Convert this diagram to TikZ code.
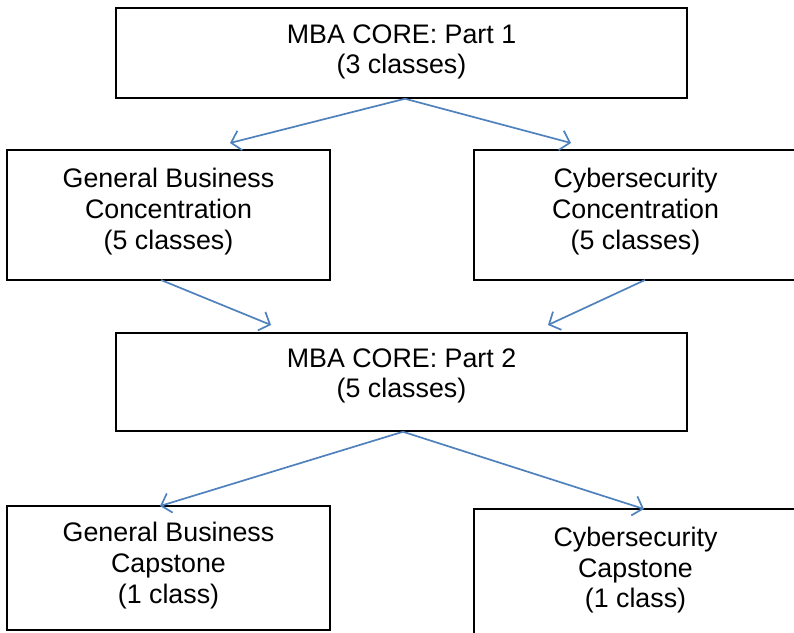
\documentclass[tikz,border=0pt]{standalone}
\usepackage{fontspec}
\setmainfont{Liberation Sans}
\usetikzlibrary{arrows.meta,calc}
\definecolor{arrowblue}{HTML}{4F81BD}
\tikzset{
  box/.style={draw=black,line width=1.5pt,rectangle,inner sep=0pt},
  txt/.style={anchor=base,inner sep=0pt,font=\fontsize{26.8}{31}\selectfont},
  link/.style={draw=arrowblue,line width=1.7pt,-{Straight Barb[length=9pt,width=20pt,line width=1.7pt]}}
}
\begin{document}
\begin{tikzpicture}[x=1pt,y=-1pt]
\useasboundingbox (0,0) rectangle (794,632);
\clip (0,0) rectangle (794,632);
% boxes
\node[box,minimum width=571pt,minimum height=90pt] (b1) at (401.5,53) {};
\node[box,minimum width=323pt,minimum height=130pt] (b2) at (168.5,215) {};
\node[box,minimum width=323pt,minimum height=130pt] (b3) at (635.5,215) {};
\node[box,minimum width=571pt,minimum height=98pt] (b4) at (401.5,382) {};
\node[box,minimum width=323pt,minimum height=124pt] (b5) at (168.5,568) {};
\node[box,minimum width=323pt,minimum height=132pt] (b6) at (635.5,575) {};
% texts
\node[txt] (t1a) at (401.5,43) {MBA CORE: Part 1};
\node[txt] (t1b) at (401.5,73) {(3 classes)};
\node[txt] (t2a) at (168.5,187) {General Business};
\node[txt] (t2b) at (168.5,218) {Concentration};
\node[txt] (t2c) at (168.5,249) {(5 classes)};
\node[txt] (t3a) at (635.5,187) {Cybersecurity};
\node[txt] (t3b) at (635.5,218) {Concentration};
\node[txt] (t3c) at (635.5,249) {(5 classes)};
\node[txt] (t4a) at (401.5,367) {MBA CORE: Part 2};
\node[txt] (t4b) at (401.5,397) {(5 classes)};
\node[txt] (t5a) at (168.5,541) {General Business};
\node[txt] (t5b) at (168.5,572) {Capstone};
\node[txt] (t5c) at (168.5,603) {(1 class)};
\node[txt] (t6a) at (635.5,546) {Cybersecurity};
\node[txt] (t6b) at (635.5,577) {Capstone};
\node[txt] (t6c) at (635.5,607) {(1 class)};
% connectors
\coordinate (s1) at ($(b1.south)+(3.5,0)$);
\coordinate (e2) at (230,143);
\coordinate (e3) at (571,143);
\coordinate (s2) at (161,280);
\coordinate (s3) at (645,280);
\coordinate (e4a) at (271,325);
\coordinate (e4b) at (548,325);
\coordinate (s4) at ($(b4.south)+(1.5,0)$);
\coordinate (e5) at (160,506);
\coordinate (e6) at (644,509);
\draw[link] (s1) -- (e2);
\draw[link] (s1) -- (e3);
\draw[link] (s2) -- (e4a);
\draw[link] (s3) -- (e4b);
\draw[link] (s4) -- (e5);
\draw[link] (s4) -- (e6);
\end{tikzpicture}
\end{document}
